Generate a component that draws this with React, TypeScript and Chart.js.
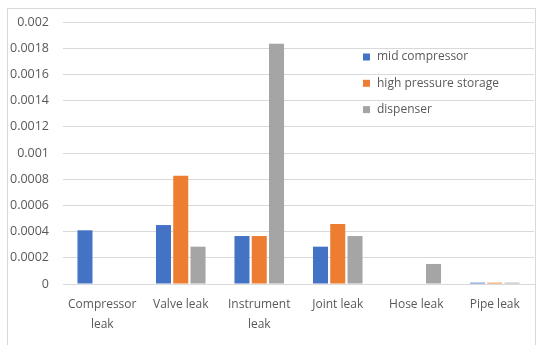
import React, { useEffect, useRef } from "react";
import { Chart, registerables } from "chart.js";

Chart.register(...registerables);

const categories: (string | string[])[] = [
  ["Compressor", "leak"],
  "Valve leak",
  ["Instrument", "leak"],
  "Joint leak",
  "Hose leak",
  "Pipe leak",
];

const midCompressor = [0.00041, 0.00045, 0.000366, 0.000285, 0, 0.00001];
const highPressureStorage = [0, 0.000827, 0.000366, 0.000458, 0, 0.00001];
const dispenser = [0, 0.000285, 0.001834, 0.000366, 0.000153, 0.00001];

const seriesNames = ["mid compressor", "high pressure storage", "dispenser"];
const seriesColors = ["#4472C4", "#ED7D31", "#A5A5A5"];

const yTickLabels = ["0", "0.0002", "0.0004", "0.0006", "0.0008", "0.001", "0.0012", "0.0014", "0.0016", "0.0018", "0.002"];

const FONT = "'Open Sans', sans-serif";
const TEXT_COLOR = "#595959";

// Legend drawn inside the plot area, to the upper right
const insideLegend = {
  id: "insideLegend",
  afterDraw(chart: Chart) {
    const { ctx, chartArea } = chart;
    const x0 = chartArea.left + 300;
    const y0 = chartArea.top + 35;
    ctx.save();
    ctx.font = `12px ${FONT}`;
    ctx.textBaseline = "middle";
    ctx.textAlign = "left";
    chart.data.datasets.forEach((ds, i) => {
      const cy = y0 + i * 26.3;
      ctx.fillStyle = ds.backgroundColor as string;
      ctx.fillRect(x0, cy - 3.5, 7, 7);
      ctx.fillStyle = TEXT_COLOR;
      ctx.fillText(ds.label as string, x0 + 14, cy);
    });
    ctx.restore();
  },
};

export default function App() {
  const canvasRef = useRef<HTMLCanvasElement | null>(null);

  useEffect(() => {
    if (!canvasRef.current) return;
    const chart = new Chart(canvasRef.current, {
      type: "bar",
      data: {
        labels: categories,
        datasets: [midCompressor, highPressureStorage, dispenser].map((d, i) => ({
          label: seriesNames[i],
          data: d,
          backgroundColor: seriesColors[i],
          borderWidth: 0,
          categoryPercentage: 0.66,
          barPercentage: 0.87,
        })),
      },
      options: {
        animation: false,
        responsive: false,
        maintainAspectRatio: false,
        layout: { padding: { top: 22, right: 7, left: 0, bottom: 0 } },
        plugins: {
          legend: { display: false },
          tooltip: { enabled: false },
        },
        scales: {
          x: {
            grid: { display: false, drawTicks: false },
            border: { display: true, color: "#D9D9D9", width: 1 },
            ticks: {
              color: TEXT_COLOR,
              font: { family: FONT, size: 12, lineHeight: 20 / 12 },
              padding: 11,
              maxRotation: 0,
              autoSkip: false,
            },
            afterFit(scale: any) {
              scale.height = 345 - 284 - 0;
            },
          },
          y: {
            min: 0,
            max: 0.002,
            grid: { color: "#D9D9D9", drawTicks: false, lineWidth: 1 },
            border: { display: false },
            ticks: {
              stepSize: 0.0002,
              color: TEXT_COLOR,
              font: { family: FONT, size: 12.5 },
              padding: 14,
              callback: (_v: any, i: number) => yTickLabels[i],
            },
            afterFit(scale: any) {
              scale.width = 63;
            },
          },
        },
      },
      plugins: [insideLegend],
    });
    return () => chart.destroy();
  }, []);

  return (
    <div style={{ position: "fixed", left: 0, top: 0, width: 541, height: 345, background: "#fff" }}>
      <div
        style={{
          position: "absolute",
          left: 7,
          top: 8,
          width: 527,
          height: 340,
          border: "1px solid #D9D9D9",
        }}
      />
      <canvas ref={canvasRef} width={541} height={345} style={{ position: "absolute", left: 0, top: 0 }} />
    </div>
  );
}
